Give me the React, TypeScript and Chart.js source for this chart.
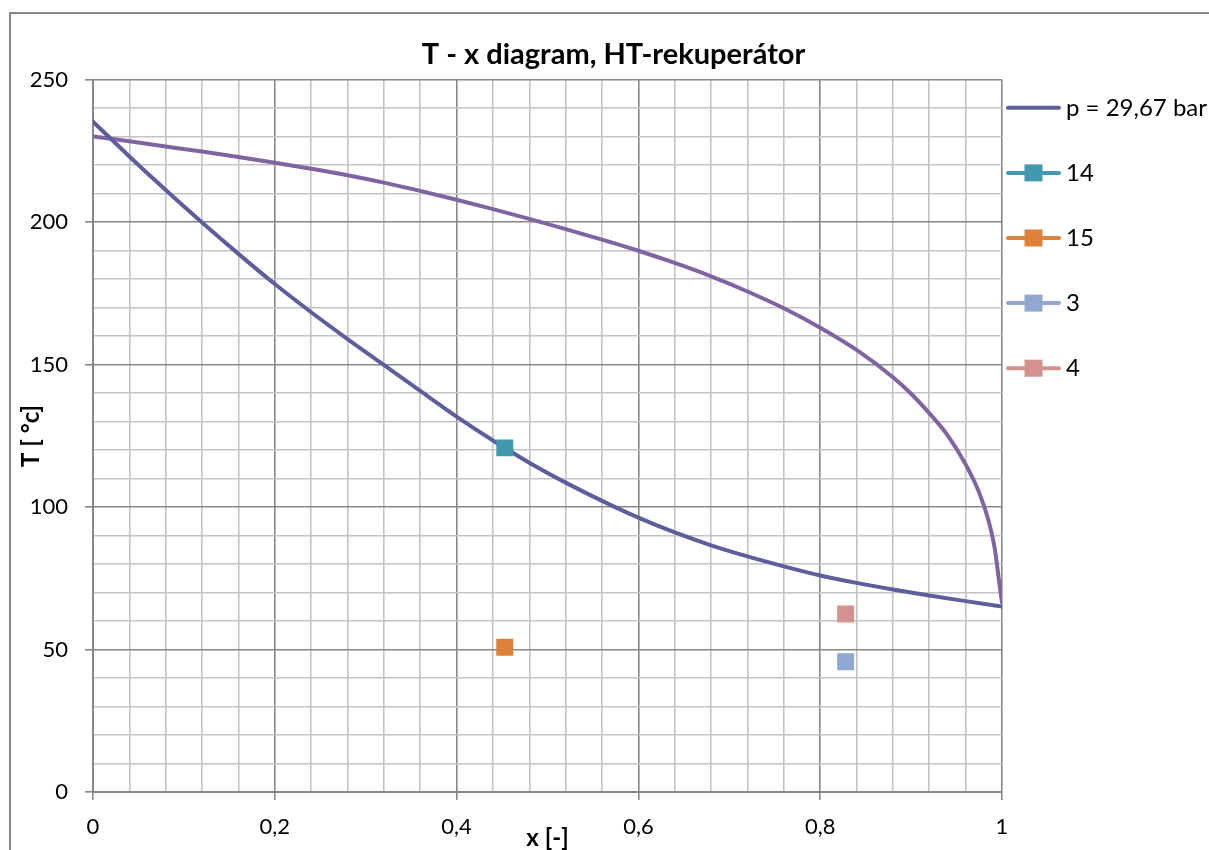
import React, { useEffect, useRef } from "react";
import { Chart, registerables } from "chart.js";

Chart.register(...registerables);

// ---- data ----
const liquidX = [0, 0.04, 0.08, 0.12, 0.16, 0.2, 0.24, 0.28, 0.32, 0.36, 0.4, 0.44, 0.48, 0.52, 0.56, 0.6, 0.64, 0.68, 0.72, 0.76, 0.8, 0.84, 0.88, 0.92, 0.96, 1.0];
const liquidT = [235.3, 223.1, 211.3, 199.9, 188.9, 178.3, 168.4, 159.0, 149.9, 140.8, 131.8, 123.4, 115.6, 108.6, 102.2, 96.3, 91.1, 86.6, 82.7, 79.2, 76.0, 73.4, 71.1, 69.0, 67.0, 65.1];

const vaporX = [0, 0.04, 0.08, 0.12, 0.16, 0.2, 0.24, 0.28, 0.32, 0.36, 0.4, 0.44, 0.48, 0.52, 0.56, 0.6, 0.64, 0.68, 0.72, 0.76, 0.8, 0.84, 0.88, 0.9, 0.92, 0.94, 0.96, 0.975, 0.985, 0.992, 0.997, 1.0];
const vaporT = [230.1, 228.4, 226.6, 224.8, 222.9, 220.9, 218.8, 216.5, 213.9, 211.0, 207.9, 204.6, 201.2, 197.6, 193.9, 190.0, 185.7, 181.0, 175.7, 169.8, 163.0, 155.2, 145.6, 139.8, 133.0, 125.3, 115.0, 105.0, 95.5, 85.5, 73.5, 66.5];

const pointLabels = ["14", "15", "3", "4"];
const pointX = [0.453, 0.453, 0.828, 0.828];
const pointT = [120.8, 50.8, 45.7, 62.5];
const pointColors = ["#4198AF", "#DD813B", "#91A8D0", "#D39190"];

const curveLabel = "p = 29,67 bar";
const liquidColor = "#5E5E9C";
const vaporColor = "#8064A2";

const titleText = "T - x diagram, HT-rekuperátor";
const xTitle = "x [-]";
const yTitle = "T [ °c]";

const xMin = 0, xMax = 1, xMinorStep = 0.04, xMajorStep = 0.2;
const yMin = 0, yMax = 250, yMinorStep = 10, yMajorStep = 50;

const FONT = "Lato, 'Open Sans', sans-serif";
const MINOR_GRID = "#C3C3C3";
const MAJOR_GRID = "#878787";

const isMultiple = (v: number, step: number) => {
  const r = v / step;
  return Math.abs(r - Math.round(r)) < 1e-6;
};

const zip = (xs: number[], ys: number[]) => xs.map((x, i) => ({ x, y: ys[i] }));

const frameAndLegend = {
  id: "frameAndLegend",
  beforeDraw(chart: any) {
    const { ctx, width, height } = chart;
    ctx.save();
    ctx.fillStyle = "#ffffff";
    ctx.fillRect(0, 0, width, height);
    ctx.strokeStyle = "#888888";
    ctx.lineWidth = 2;
    ctx.strokeRect(10, 13, width + 40, height + 40);
    ctx.restore();
  },
  afterDraw(chart: any) {
    const { ctx, chartArea } = chart;
    const items = chart.data.datasets.filter((d: any) => d.label);
    const x0 = chartArea.right + 4;
    const lineLen = 55;
    const y0 = chartArea.top + 28;
    const rowGap = 65.1;
    ctx.save();
    items.forEach((d: any, i: number) => {
      const y = y0 + i * rowGap;
      const color = d.legendColor;
      ctx.strokeStyle = color;
      ctx.lineWidth = 4;
      ctx.lineCap = "round";
      ctx.beginPath();
      ctx.moveTo(x0 + 2, y);
      ctx.lineTo(x0 + lineLen - 2, y);
      ctx.stroke();
      if (d.legendMarker) {
        ctx.fillStyle = color;
        ctx.fillRect(x0 + lineLen / 2 - 9, y - 8.5, 18, 17);
      }
      ctx.fillStyle = "#000000";
      ctx.font = `24px ${FONT}`;
      ctx.textBaseline = "middle";
      ctx.textAlign = "left";
      ctx.fillText(d.label, x0 + lineLen + 5, y);
    });
    ctx.restore();
  },
};

export default function App() {
  const canvasRef = useRef<HTMLCanvasElement | null>(null);

  useEffect(() => {
    const canvas = canvasRef.current;
    if (!canvas) return;

    const datasets: any[] = [
      {
        label: curveLabel,
        data: zip(liquidX, liquidT),
        showLine: true,
        borderColor: liquidColor,
        backgroundColor: liquidColor,
        legendColor: liquidColor,
        legendMarker: false,
        borderWidth: 4,
        borderCapStyle: "round",
        borderJoinStyle: "round",
        pointRadius: 0,
        pointHoverRadius: 0,
        cubicInterpolationMode: "monotone",
        order: 2,
      },
      {
        label: "",
        data: zip(vaporX, vaporT),
        showLine: true,
        borderColor: vaporColor,
        backgroundColor: vaporColor,
        borderWidth: 4,
        borderCapStyle: "round",
        borderJoinStyle: "round",
        pointRadius: 0,
        pointHoverRadius: 0,
        cubicInterpolationMode: "monotone",
        order: 2,
      },
      ...pointLabels.map((lab, i) => ({
        label: lab,
        data: [{ x: pointX[i], y: pointT[i] }],
        showLine: false,
        pointStyle: "rect",
        pointRadius: 12,
        pointHoverRadius: 12,
        pointBorderWidth: 0,
        borderWidth: 0,
        backgroundColor: pointColors[i],
        borderColor: pointColors[i],
        legendColor: pointColors[i],
        legendMarker: true,
        order: 0,
      })),
    ];

    const chart = new Chart(canvas, {
      type: "scatter",
      data: { datasets },
      plugins: [frameAndLegend],
      options: {
        responsive: false,
        animation: false,
        devicePixelRatio: 1,
        layout: { padding: 0 },
        plugins: {
          legend: { display: false },
          tooltip: { enabled: false },
          title: {
            display: true,
            text: titleText,
            color: "#000000",
            font: { family: FONT, size: 29, weight: "bold" },
            padding: { top: 37, bottom: 8 },
          },
        },
        scales: {
          x: {
            type: "linear",
            position: "bottom",
            min: xMin,
            max: xMax,
            afterFit: (s: any) => {
              s.height = 78;
            },
            ticks: {
              stepSize: xMinorStep,
              autoSkip: false,
              maxRotation: 0,
              minRotation: 0,
              padding: 14,
              color: "#000000",
              font: { family: FONT, size: 22 },
              callback: (v: any) =>
                isMultiple(Number(v), xMajorStep)
                  ? String(Math.round(Number(v) * 100) / 100).replace(".", ",")
                  : "",
            },
            grid: {
              color: (c: any) =>
                c.tick && isMultiple(c.tick.value, xMajorStep) ? MAJOR_GRID : MINOR_GRID,
              tickColor: (c: any) =>
                c.tick && isMultiple(c.tick.value, xMajorStep) ? MAJOR_GRID : "rgba(0,0,0,0)",
              lineWidth: 1.6,
              tickWidth: 1.6,
              tickLength: 8,
            },
            border: { display: true, color: MAJOR_GRID, width: 2 },
            title: {
              display: true,
              text: xTitle,
              color: "#000000",
              font: { family: FONT, size: 24, weight: "bold" },
              padding: { top: 0, bottom: 17 },
            },
          },
          y: {
            type: "linear",
            position: "left",
            min: yMin,
            max: yMax,
            afterFit: (s: any) => {
              s.width = 93;
            },
            ticks: {
              stepSize: yMinorStep,
              autoSkip: false,
              padding: 17,
              color: "#000000",
              font: { family: FONT, size: 22 },
              callback: (v: any) => (isMultiple(Number(v), yMajorStep) ? String(v) : ""),
            },
            grid: {
              color: (c: any) =>
                c.tick && isMultiple(c.tick.value, yMajorStep) ? MAJOR_GRID : MINOR_GRID,
              tickColor: (c: any) =>
                c.tick && isMultiple(c.tick.value, yMajorStep) ? MAJOR_GRID : "rgba(0,0,0,0)",
              lineWidth: 1.6,
              tickWidth: 1.6,
              tickLength: 8,
            },
            border: { display: true, color: MAJOR_GRID, width: 2 },
            title: {
              display: true,
              text: yTitle,
              color: "#000000",
              font: { family: FONT, size: 24, weight: "bold" },
              padding: { top: 17, bottom: 0 },
            },
          },
          legendSpace: {
            type: "linear",
            position: "right",
            display: true,
            afterFit: (s: any) => {
              s.width = 225;
            },
            ticks: { display: false },
            grid: { display: false, drawTicks: false },
            border: { display: false },
          },
        },
      } as any,
    });

    return () => chart.destroy();
  }, []);

  return (
    <div
      style={{
        position: "fixed",
        left: 0,
        top: 0,
        width: 1209,
        height: 850,
        overflow: "hidden",
        background: "#ffffff",
      }}
    >
      <canvas ref={canvasRef} width={1227} height={870} style={{ display: "block" }} />
    </div>
  );
}
